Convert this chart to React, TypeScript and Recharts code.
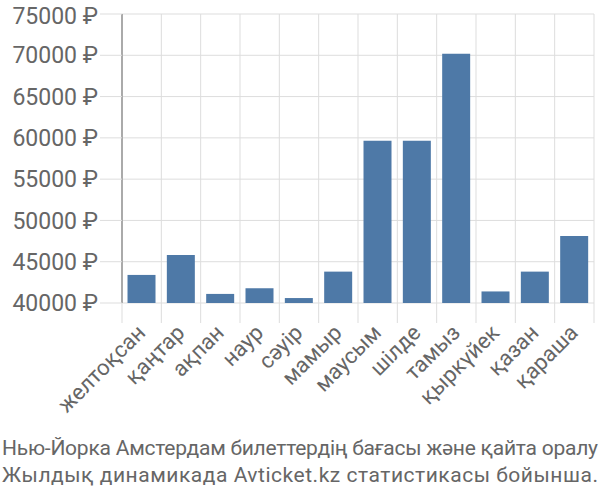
import { Bar, BarChart, CartesianGrid, XAxis, YAxis } from 'recharts';

const months = [
    'желтоқсан', 'қаңтар', 'ақпан', 'наур', 'сәуір', 'мамыр',
    'маусым', 'шілде', 'тамыз', 'қыркүйек', 'қазан', 'қараша'
];
const prices = [43400, 45800, 41100, 41800, 40600, 43800, 59650, 59650, 70200, 41400, 43800, 48100];
const yTicks = [40000, 45000, 50000, 55000, 60000, 65000, 70000, 75000];
const titleLines = [
    'Нью-Йорка Амстердам билеттердің бағасы және қайта оралу',
    'Жылдық динамикада Avticket.kz статистикасы бойынша.'
];

const data = months.map((month, i) => ({ month, price: prices[i] }));

const FONT = 'Roboto, "Liberation Sans", sans-serif';
const TITLE_FONT = '"Liberation Sans Narrow", Roboto, sans-serif';
const TEXT = '#666';
const GRID = '#dddddd';

const CHART_W = 600;
const LEFT = 122;
const RIGHT = 6;
const BAND = (CHART_W - LEFT - RIGHT) / months.length;

function MonthTick({ x, y, payload, index }: any) {
    const left = x - BAND / 2;
    return (
        <g>
            <line x1={left} x2={left} y1={y} y2={y + 20} stroke={GRID} strokeWidth={1} />
            {index === months.length - 1 && (
                <line x1={x + BAND / 2} x2={x + BAND / 2} y1={y} y2={y + 20} stroke={GRID} strokeWidth={1} />
            )}
            <text
                x={0}
                y={0}
                transform={`translate(${x + 5},${y + 31}) rotate(-45)`}
                textAnchor="end"
                fill={TEXT}
                fontSize={22}
                fontFamily={FONT}
            >
                {payload.value}
            </text>
        </g>
    );
}

export default function App() {
    return (
        <div style={{ position: 'absolute', left: 0, top: 0, width: 600, height: 500, background: '#fff', overflow: 'hidden' }}>
            <BarChart
                width={CHART_W}
                height={430}
                data={data}
                margin={{ top: 14, right: RIGHT, left: 0, bottom: 0 }}
                barCategoryGap="14%"
            >
                <CartesianGrid
                    stroke={GRID}
                    verticalCoordinatesGenerator={({ offset }: any) =>
                        months.map((_, i) => offset.left + i * BAND).concat(offset.left + offset.width)
                    }
                />
                <XAxis
                    dataKey="month"
                    interval={0}
                    tickLine={false}
                    axisLine={false}
                    tickSize={0}
                    tickMargin={0}
                    height={127}
                    tick={<MonthTick />}
                />
                <YAxis
                    domain={[40000, 75000]}
                    ticks={yTicks}
                    allowDataOverflow
                    width={LEFT}
                    tickSize={22}
                    tickMargin={2}
                    tickLine={{ stroke: GRID }}
                    axisLine={{ stroke: '#aaa', strokeWidth: 2 }}
                    tick={{ fill: TEXT, fontSize: 23, fontFamily: FONT }}
                    tickFormatter={(v: number) => `${v} ₽`}
                />
                <Bar dataKey="price" fill="#4e79a7" isAnimationActive={false} />
            </BarChart>
            <svg width={600} height={70} style={{ position: 'absolute', left: 0, top: 430 }}>
                {titleLines.map((line, i) => (
                    <text
                        key={line}
                        x={2}
                        y={25 + i * 27}
                        textLength={596}
                        lengthAdjust="spacing"
                        fill={TEXT}
                        fontSize={21}
                        fontFamily={TITLE_FONT}
                    >
                        {line}
                    </text>
                ))}
            </svg>
        </div>
    );
}
